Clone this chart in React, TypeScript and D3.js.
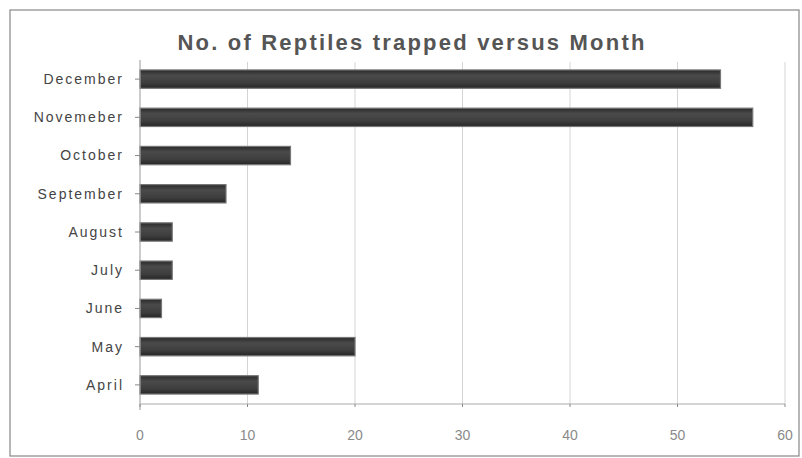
import React from "react";
import * as d3 from "d3";

const months = ["December", "Novemeber", "October", "September", "August", "July", "June", "May", "April"];
const counts = [54, 57, 14, 8, 3, 3, 2, 20, 11];
const xTicks = [0, 10, 20, 30, 40, 50, 60];
const title = "No. of Reptiles trapped versus Month";

export default function App() {
  const W = 802, H = 458;
  const left = 140, right = 785, top = 60, bottom = 404;
  const x = d3.scaleLinear().domain([0, 60]).range([left, right]);
  const y = d3.scaleBand().domain(months).range([top, bottom]).paddingInner(0.52).paddingOuter(0.26);
  const bh = y.bandwidth();
  return (
    <svg width={W} height={H} style={{ position: "absolute", left: 0, top: 0, background: "#fff" }}>
      <defs>
        <linearGradient id="barg" x1="0" y1="0" x2="0" y2="1">
          <stop offset="0" stopColor="#2a2a2a" />
          <stop offset="0.3" stopColor="#4a4a4a" />
          <stop offset="0.7" stopColor="#3e3e3e" />
          <stop offset="1" stopColor="#262626" />
        </linearGradient>
      </defs>
      <rect x={10} y={10} width={789} height={446} fill="#fff" stroke="#888" strokeWidth={1.2} />
      <text x={412} y={50} textAnchor="middle" fontFamily="Liberation Sans, Arial, sans-serif" fontWeight="bold" fontSize={22} fill="#555" letterSpacing={2.2}>{title}</text>
      {xTicks.slice(1).map((t) => (
        <line key={"g" + t} x1={x(t)} x2={x(t)} y1={top + 2} y2={bottom} stroke="#d4d4d4" strokeWidth={1} />
      ))}
      {months.map((m, i) => (
        <rect key={m} x={x(0)} y={y(m)!} width={x(counts[i]) - x(0)} height={bh} fill="url(#barg)" stroke="#777" strokeWidth={1.2} />
      ))}
      <line x1={left} x2={left} y1={top} y2={bottom + 6} stroke="#999" />
      <line x1={left} x2={right} y1={bottom} y2={bottom} stroke="#aaa" />
      {xTicks.map((t) => (
        <g key={"t" + t}>
          <line x1={x(t)} x2={x(t)} y1={bottom} y2={bottom + 3} stroke="#888" />
          <text x={x(t)} y={440} textAnchor="middle" fontFamily="Liberation Sans, Arial, sans-serif" fontSize={14} fill="#8a8a8a">{t}</text>
        </g>
      ))}
      {months.map((m) => (
        <g key={"l" + m}>
          <line x1={left - 5} x2={left} y1={y(m)! + bh / 2} y2={y(m)! + bh / 2} stroke="#888" />
          <text x={124} y={y(m)! + bh / 2} dy="0.35em" textAnchor="end" fontFamily="Liberation Sans, Arial, sans-serif" fontSize={14} fill="#444" letterSpacing={2}>{m}</text>
        </g>
      ))}
    </svg>
  );
}
